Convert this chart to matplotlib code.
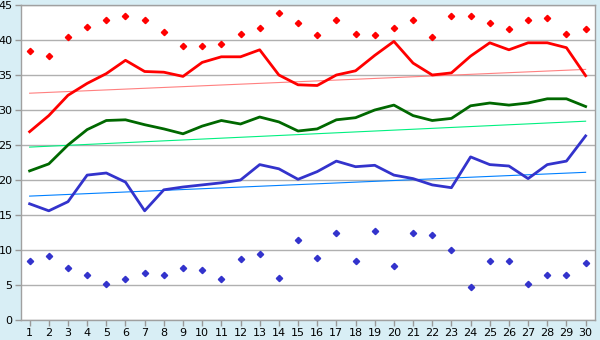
import numpy as np
from matplotlib import pyplot as plt

# days of the month
days = list(range(1, 31))

# mean maximum (red), mean (green), mean minimum (blue)
tmax = [26.9, 29.2, 32.1, 33.8, 35.2, 37.1, 35.5, 35.4, 34.8, 36.8,
        37.6, 37.6, 38.6, 35.0, 33.6, 33.5, 35.0, 35.6, 37.8, 39.8,
        36.7, 35.0, 35.3, 37.7, 39.6, 38.6, 39.6, 39.6, 38.9, 34.9]
tmean = [21.3, 22.3, 25.0, 27.2, 28.5, 28.6, 27.9, 27.3, 26.6, 27.7,
         28.5, 28.0, 29.0, 28.3, 27.0, 27.3, 28.6, 28.9, 30.0, 30.7,
         29.2, 28.5, 28.8, 30.6, 31.0, 30.7, 31.0, 31.6, 31.6, 30.5]
tmin = [16.6, 15.6, 16.9, 20.7, 21.0, 19.7, 15.6, 18.6, 19.0, 19.3,
        19.6, 20.0, 22.2, 21.6, 20.1, 21.2, 22.7, 21.9, 22.1, 20.7,
        20.2, 19.3, 18.9, 23.3, 22.2, 22.0, 20.2, 22.2, 22.7, 26.3]

# record values (diamonds)
rec_max = [38.4, 37.7, 40.4, 41.8, 42.8, 43.4, 42.8, 41.2, 39.2, 39.1,
           39.4, 40.9, 41.7, 43.8, 42.4, 40.7, 42.8, 40.8, 40.7, 41.7,
           42.8, 40.4, 43.4, 43.4, 42.4, 41.5, 42.9, 43.2, 40.9, 41.5]
rec_min = [8.4, 9.2, 7.5, 6.4, 5.1, 5.8, 6.7, 6.4, 7.5, 7.1,
           5.8, 8.7, 9.4, 6.0, 11.4, 8.8, 12.5, 8.4, 12.7, 7.7,
           12.5, 12.2, 10.0, 4.7, 8.5, 8.5, 5.1, 6.4, 6.4, 8.2]

# trend lines, value at day 1 and day 30
trend_days = [1, 30]
trend_max = [32.4, 35.8]
trend_mean = [24.7, 28.4]
trend_min = [17.7, 21.1]

bg = '#d8eef5'
fig = plt.figure(figsize=(6, 3.4), dpi=100, facecolor=bg)
ax = fig.add_axes([0.035, 0.0588, 0.957, 0.9265])
ax.set_facecolor('white')

ax.set_axisbelow(True)
ax.grid(axis='y', color='#b0b0b0', linewidth=1)

ax.plot(trend_days, trend_max, color='#ff8080', linewidth=0.8)
ax.plot(trend_days, trend_mean, color='#00f080', linewidth=0.8)
ax.plot(trend_days, trend_min, color='#0080ff', linewidth=0.8)

ax.plot(days, tmax, color='#ff0000', linewidth=2.0)
ax.plot(days, tmean, color='#006800', linewidth=2.0)
ax.plot(days, tmin, color='#3333cc', linewidth=2.0)

ax.plot(days, rec_max, linestyle='none', marker='D', markersize=3.2, color='#ff0000')
ax.plot(days, rec_min, linestyle='none', marker='D', markersize=3.2, color='#3333cc')

ax.set_xlim(0.55, 30.5)
ax.set_ylim(0, 45)
ax.set_xticks(days)
ax.set_yticks(range(0, 46, 5))
ax.tick_params(axis='both', labelsize=8, colors='#999999', labelcolor='black', length=4, width=1, pad=2)

for s in ax.spines.values():
    s.set_color('#a0a0a0')
    s.set_linewidth(1)

plt.savefig('out.png', dpi=100, facecolor=bg)
